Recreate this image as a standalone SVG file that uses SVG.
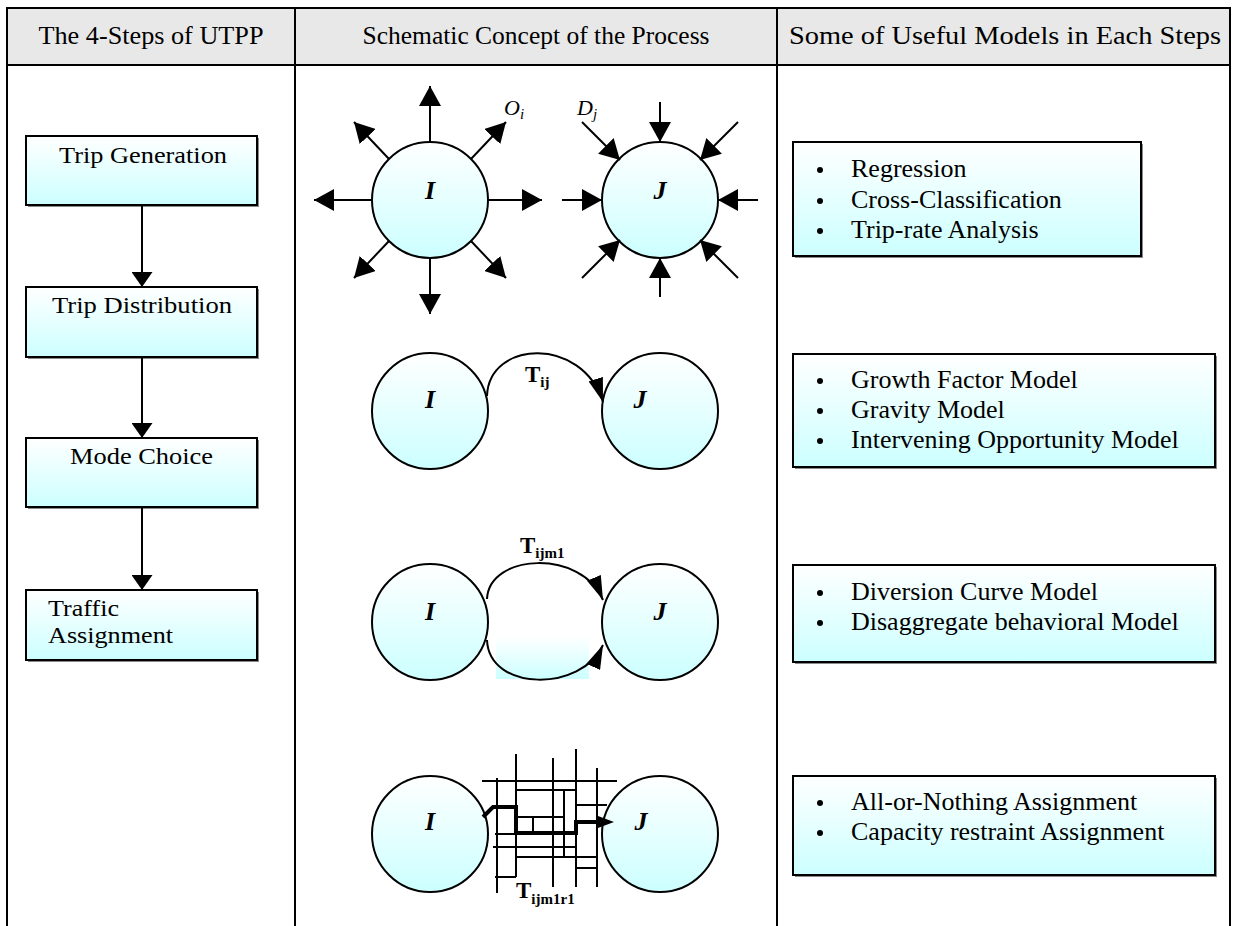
<svg xmlns="http://www.w3.org/2000/svg" width="1237" height="926" viewBox="0 0 1237 926">
<style>
.hdr{font-family:"Liberation Serif","Times New Roman",serif;font-size:26px;text-anchor:middle;fill:#000}
.lt{font-family:"Liberation Serif","Times New Roman",serif;font-size:23px;fill:#000}
.rt{font-family:"Liberation Serif","Times New Roman",serif;font-size:26px;fill:#000}
.big{font-family:"Liberation Serif","Times New Roman",serif;font-weight:bold;font-style:italic;font-size:26px;text-anchor:middle;fill:#000}
.tl{font-family:"Liberation Serif","Times New Roman",serif;font-weight:bold;font-size:23px;fill:#000}
.od{font-family:"Liberation Serif","Times New Roman",serif;font-style:italic;font-size:22px;fill:#000}
.sub{font-size:15px}
.ln{stroke:#000;stroke-width:2;fill:none}
.tb{stroke:#000;stroke-width:2;fill:none}
.box{stroke:#000;stroke-width:2;fill:url(#g)}
.sh{fill:#8a8a8a}
.circ{stroke:#000;stroke-width:2;fill:url(#g)}
.grid{stroke:#000;stroke-width:2;fill:none}
.thick{stroke:#000;stroke-width:4;fill:none;stroke-linejoin:miter}
</style>
<defs>
<linearGradient id="g" x1="0" y1="0" x2="0" y2="1"><stop offset="0" stop-color="#ffffff"/><stop offset="1" stop-color="#ccffff"/></linearGradient>
<marker id="ah" viewBox="0 0 20 22" markerWidth="20" markerHeight="22" refX="20" refY="11" orient="auto" markerUnits="userSpaceOnUse"><path d="M0,0 L20,11 L0,22 Z" fill="#000"/></marker>
<marker id="al" viewBox="0 0 15 21" markerWidth="15" markerHeight="21" refX="15" refY="10.5" orient="auto" markerUnits="userSpaceOnUse"><path d="M0,0 L15,10.5 L0,21 Z" fill="#000"/></marker>
<marker id="ac" viewBox="0 0 24 15" markerWidth="24" markerHeight="15" refX="24" refY="7.5" orient="auto" markerUnits="userSpaceOnUse"><path d="M0,0 L24,7.5 L0,15 Z" fill="#000"/></marker>
<marker id="at" viewBox="0 0 16 12" markerWidth="16" markerHeight="12" refX="2" refY="6" orient="auto" markerUnits="userSpaceOnUse"><path d="M0,0 L16,6 L0,12 Z" fill="#000"/></marker>
</defs>
<rect width="1237" height="926" fill="#fff"/>

<g id="table">
<rect x="7" y="8" width="1223" height="57" fill="#e8e8e8"/>
<line class="tb" x1="6" y1="8" x2="1231" y2="8"/>
<line class="tb" x1="6" y1="65" x2="1231" y2="65"/>
<line class="tb" x1="7" y1="8" x2="7" y2="926"/>
<line class="tb" x1="295" y1="8" x2="295" y2="926"/>
<line class="tb" x1="777" y1="8" x2="777" y2="926"/>
<line class="tb" x1="1230" y1="8" x2="1230" y2="926"/>
<text class="hdr" x="151" y="44" textLength="225" lengthAdjust="spacingAndGlyphs">The 4-Steps of UTPP</text>
<text class="hdr" x="536" y="44" textLength="347" lengthAdjust="spacingAndGlyphs">Schematic Concept of the Process</text>
<text class="hdr" x="1005" y="44" textLength="432" lengthAdjust="spacingAndGlyphs">Some of Useful Models in Each Steps</text>
</g>

<g id="step-trip-generation">
<rect class="sh" x="28" y="138" width="231" height="69"/>
<rect class="box" x="26" y="136" width="231" height="69"/>
<text class="lt" x="59" y="163" textLength="168" lengthAdjust="spacingAndGlyphs">Trip Generation</text>
</g>
<g id="step-trip-distribution">
<rect class="sh" x="28" y="289" width="231" height="70"/>
<rect class="box" x="26" y="287" width="231" height="70"/>
<text class="lt" x="52" y="313" textLength="180" lengthAdjust="spacingAndGlyphs">Trip Distribution</text>
</g>
<g id="step-mode-choice">
<rect class="sh" x="28" y="440" width="231" height="69"/>
<rect class="box" x="26" y="438" width="231" height="69"/>
<text class="lt" x="70" y="464" textLength="143" lengthAdjust="spacingAndGlyphs">Mode Choice</text>
</g>
<g id="step-traffic-assignment">
<rect class="sh" x="28" y="592" width="231" height="70"/>
<rect class="box" x="26" y="590" width="231" height="70"/>
<text class="lt" x="48" y="616" textLength="71" lengthAdjust="spacingAndGlyphs">Traffic</text>
<text class="lt" x="48" y="643" textLength="125" lengthAdjust="spacingAndGlyphs">Assignment</text>
</g>

<g id="connectors">
<line class="ln" x1="142" y1="205" x2="142" y2="287" marker-end="url(#al)"/>
<line class="ln" x1="142" y1="357" x2="142" y2="438" marker-end="url(#al)"/>
<line class="ln" x1="142" y1="507" x2="142" y2="590" marker-end="url(#al)"/>
</g>

<g id="trip-generation-schematic">
<g id="gen-I">
<circle class="circ" cx="430" cy="200" r="58"/>
<text class="big" x="430" y="199">I</text>
</g>
<g id="gen-J">
<circle class="circ" cx="660" cy="200" r="58"/>
<text class="big" x="660" y="199">J</text>
</g>
<g id="gen-arrows">
<line class="ln" x1="430" y1="142" x2="430" y2="86" marker-end="url(#ah)"/>
<line class="ln" x1="430" y1="258" x2="430" y2="314" marker-end="url(#ah)"/>
<line class="ln" x1="372" y1="200" x2="314" y2="200" marker-end="url(#ah)"/>
<line class="ln" x1="488" y1="200" x2="542" y2="200" marker-end="url(#ah)"/>
<line class="ln" x1="471" y1="159" x2="506" y2="122" marker-end="url(#ah)"/>
<line class="ln" x1="389" y1="159" x2="354" y2="122" marker-end="url(#ah)"/>
<line class="ln" x1="389" y1="241" x2="354" y2="278" marker-end="url(#ah)"/>
<line class="ln" x1="471" y1="241" x2="506" y2="278" marker-end="url(#ah)"/>
<line class="ln" x1="660" y1="102" x2="660" y2="142" marker-end="url(#ah)"/>
<line class="ln" x1="660" y1="297" x2="660" y2="258" marker-end="url(#ah)"/>
<line class="ln" x1="562" y1="200" x2="602" y2="200" marker-end="url(#ah)"/>
<line class="ln" x1="758" y1="200" x2="718" y2="200" marker-end="url(#ah)"/>
<line class="ln" x1="582" y1="122" x2="620" y2="160" marker-end="url(#ah)"/>
<line class="ln" x1="738" y1="122" x2="700" y2="160" marker-end="url(#ah)"/>
<line class="ln" x1="582" y1="278" x2="620" y2="240" marker-end="url(#ah)"/>
<line class="ln" x1="738" y1="278" x2="700" y2="240" marker-end="url(#ah)"/>
</g>
<text class="od" x="504" y="115">O<tspan class="sub" dy="4">i</tspan></text>
<text class="od" x="577" y="115">D<tspan class="sub" dy="4">j</tspan></text>
</g>

<g id="trip-distribution-schematic">
<g id="dist-I">
<circle class="circ" cx="430" cy="411" r="58"/>
<text class="big" x="430" y="408">I</text>
</g>
<g id="dist-J">
<circle class="circ" cx="660" cy="411" r="58"/>
<text class="big" x="640" y="408">J</text>
</g>
<path class="ln" d="M487,396 C489,340 582,336 603,402" marker-end="url(#ac)"/>
<text class="tl" x="525" y="382">T<tspan class="sub" dy="5">ij</tspan></text>
</g>

<g id="mode-choice-schematic">
<rect x="496" y="636" width="93" height="43" fill="url(#g)"/>
<g id="mode-I">
<circle class="circ" cx="430" cy="622" r="58"/>
<text class="big" x="430" y="620">I</text>
</g>
<g id="mode-J">
<circle class="circ" cx="660" cy="622" r="58"/>
<text class="big" x="660" y="620">J</text>
</g>
<path class="ln" d="M487,599 C489,553 582,549 603,600" marker-end="url(#ac)"/>
<path class="ln" d="M487,640 C489,692 582,692 603,645" marker-end="url(#ac)"/>
<text class="tl" x="520" y="553">T<tspan class="sub" dy="5">ijm1</tspan></text>
</g>

<g id="traffic-assignment-schematic">
<g id="assign-I">
<circle class="circ" cx="430" cy="834" r="58"/>
<text class="big" x="430" y="830">I</text>
</g>
<g id="assign-J">
<circle class="circ" cx="660" cy="834" r="58"/>
<text class="big" x="641" y="830">J</text>
</g>
<g id="network">
<path class="grid" d="M497,778 V893 M516,754 V877 M553,758 V887 M564,790 V858 M576,749 V887 M597,768 V887 M533,817 V833
M482,781 H617 M516,790 H576 M576,805 H607 M516,817 H564 M495,834 H516 M493,847 H577 M516,857 H598 M576,868 H598 M495,877 H516"/>
<path class="thick" d="M483,817 L493,807 L516,807 L516,833 L576,833 L576,822 L600,822" marker-end="url(#at)"/>
</g>
<text class="tl" x="516" y="898">T<tspan class="sub" dy="6">ijm1r1</tspan></text>
</g>

<g id="models-generation">
<rect class="sh" x="795" y="144" width="348" height="114"/>
<rect class="box" x="793" y="142" width="348" height="114"/>
<circle cx="820" cy="170" r="3"/><text class="rt" x="851" y="177">Regression</text>
<circle cx="820" cy="201" r="3"/><text class="rt" x="851" y="208">Cross-Classification</text>
<circle cx="820" cy="231" r="3"/><text class="rt" x="851" y="238">Trip-rate Analysis</text>
</g>
<g id="models-distribution">
<rect class="sh" x="795" y="356" width="422" height="113"/>
<rect class="box" x="793" y="354" width="422" height="113"/>
<circle cx="820" cy="381" r="3"/><text class="rt" x="851" y="388">Growth Factor Model</text>
<circle cx="820" cy="411" r="3"/><text class="rt" x="851" y="418">Gravity Model</text>
<circle cx="820" cy="441" r="3"/><text class="rt" x="851" y="448">Intervening Opportunity Model</text>
</g>
<g id="models-mode-choice">
<rect class="sh" x="795" y="567" width="422" height="97"/>
<rect class="box" x="793" y="565" width="422" height="97"/>
<circle cx="820" cy="593" r="3"/><text class="rt" x="851" y="600">Diversion Curve Model</text>
<circle cx="820" cy="623" r="3"/><text class="rt" x="851" y="630">Disaggregate behavioral Model</text>
</g>
<g id="models-assignment">
<rect class="sh" x="795" y="778" width="422" height="99"/>
<rect class="box" x="793" y="776" width="422" height="99"/>
<circle cx="820" cy="803" r="3"/><text class="rt" x="851" y="810">All-or-Nothing Assignment</text>
<circle cx="820" cy="833" r="3"/><text class="rt" x="851" y="840">Capacity restraint Assignment</text>
</g>
</svg>
